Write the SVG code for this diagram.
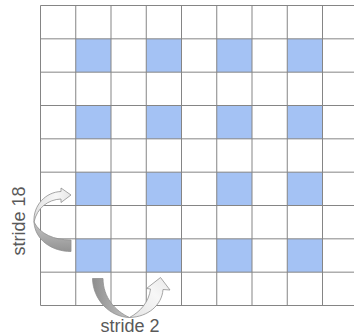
<svg xmlns="http://www.w3.org/2000/svg" width="354" height="336" viewBox="0 0 354 336">
<style>
.cell{fill:#a4c2f4}
.grid{stroke:#858585;stroke-width:1;fill:none}
.lbl{font-family:"Liberation Sans",Arial,sans-serif;font-size:18px;fill:#595959}
.band{stroke:#8f8f8f;stroke-width:0.8;stroke-linejoin:round}
</style>
<defs>
<linearGradient id="dark18" x1="0" y1="0" x2="0" y2="1">
<stop offset="0" stop-color="#c4c4c4"/><stop offset="1" stop-color="#939393"/>
</linearGradient>
<linearGradient id="light18" x1="0" y1="0" x2="1" y2="0">
<stop offset="0" stop-color="#e2e2e2"/><stop offset="0.6" stop-color="#f7f7f7"/><stop offset="1" stop-color="#e6e6e6"/>
</linearGradient>
<linearGradient id="dark2" x1="0" y1="0" x2="1" y2="0">
<stop offset="0" stop-color="#8e8e8e"/><stop offset="1" stop-color="#c4c4c4"/>
</linearGradient>
<linearGradient id="light2" x1="0" y1="1" x2="1" y2="0">
<stop offset="0" stop-color="#e4e4e4"/><stop offset="0.6" stop-color="#f7f7f7"/><stop offset="1" stop-color="#e8e8e8"/>
</linearGradient>
</defs>
<rect width="354" height="336" fill="#ffffff"/>
<g id="cells">
<rect class="cell" x="75.75" y="38.83" width="35.25" height="33.34"/>
<rect class="cell" x="146.25" y="38.83" width="35.25" height="33.34"/>
<rect class="cell" x="216.75" y="38.83" width="35.25" height="33.34"/>
<rect class="cell" x="287.25" y="38.83" width="35.25" height="33.34"/>
<rect class="cell" x="75.75" y="105.5" width="35.25" height="33.33"/>
<rect class="cell" x="146.25" y="105.5" width="35.25" height="33.33"/>
<rect class="cell" x="216.75" y="105.5" width="35.25" height="33.33"/>
<rect class="cell" x="287.25" y="105.5" width="35.25" height="33.33"/>
<rect class="cell" x="75.75" y="172.17" width="35.25" height="33.33"/>
<rect class="cell" x="146.25" y="172.17" width="35.25" height="33.33"/>
<rect class="cell" x="216.75" y="172.17" width="35.25" height="33.33"/>
<rect class="cell" x="287.25" y="172.17" width="35.25" height="33.33"/>
<rect class="cell" x="75.75" y="238.83" width="35.25" height="33.34"/>
<rect class="cell" x="146.25" y="238.83" width="35.25" height="33.34"/>
<rect class="cell" x="216.75" y="238.83" width="35.25" height="33.34"/>
<rect class="cell" x="287.25" y="238.83" width="35.25" height="33.34"/>
</g>
<g id="grid">
<path class="grid" d="M40.5 5.5H354M40.5 38.83H354M40.5 72.17H354M40.5 105.5H354M40.5 138.83H354M40.5 172.17H354M40.5 205.5H354M40.5 238.83H354M40.5 272.17H354M40.5 305.5H354
M40.5 5.5V305.5M75.75 5.5V305.5M111 5.5V305.5M146.25 5.5V305.5M181.5 5.5V305.5M216.75 5.5V305.5M252 5.5V305.5M287.25 5.5V305.5M322.5 5.5V305.5"/>
</g>
<g id="connectors">
<g id="arrow-stride18">
<path class="band" fill="url(#dark18)" d="M71 240 L71 251.5 C52 251.5 35 240 34 222 C40 234 54 240 71 240 Z"/>
<path class="band" fill="url(#light18)" d="M34 222 C33 205 46 192 61 191.5 L61 188 L71 195 L61 202.5 L61 199 C48 199.5 37 208 34 222 Z"/>
</g>
<g id="arrow-stride2">
<path class="band" fill="url(#dark2)" d="M92.5 278.5 L103 278.5 C103 297 115 311 129.5 317.5 C110 317 93 300 92.5 278.5 Z"/>
<path class="band" fill="url(#light2)" d="M129.5 317.5 C148 317 162 305 163 289.5 L170 290 L160.5 277.5 L146.5 288.5 L150.5 289 C149 302 140 312 129.5 317.5 Z"/>
</g>
</g>
<g id="labels">
<text class="lbl" x="130" y="332" text-anchor="middle">stride 2</text>
<text class="lbl" transform="translate(24.5 221) rotate(-90)" text-anchor="middle">stride 18</text>
</g>
</svg>
